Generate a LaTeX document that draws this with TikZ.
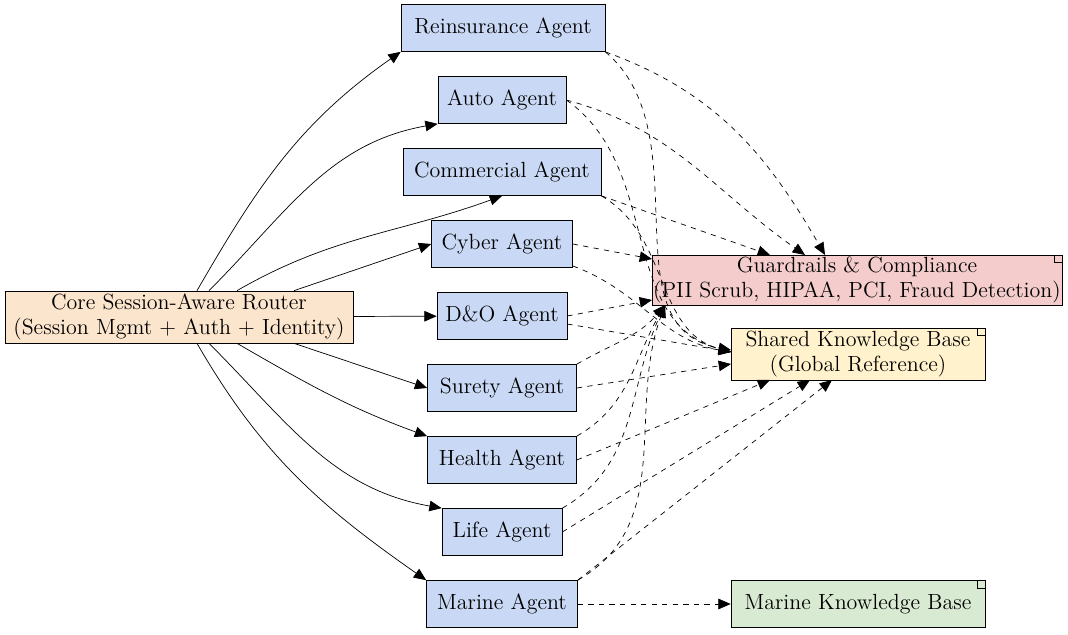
\documentclass[tikz,border=0pt]{standalone}
\usetikzlibrary{arrows.meta}
\definecolor{agentblue}{HTML}{C9D9F5}
\definecolor{routerorange}{HTML}{FCE5CD}
\definecolor{guardred}{HTML}{F4CCCC}
\definecolor{kbyellow}{HTML}{FFF2CC}
\definecolor{kbgreen}{HTML}{D9EAD3}
\begin{document}
\begin{tikzpicture}[x=0.02cm, y=-0.02cm, >={Triangle[length=7pt,width=6pt]},
  font=\fontsize{12.5}{14.5}\selectfont]
  \tikzstyle{box}=[rectangle, draw, inner sep=0pt, minimum height=0.94cm, align=center]
  \tikzstyle{agent}=[box, fill=agentblue]
  \tikzstyle{note}=[box, minimum height=1cm]
  \tikzstyle{solid edge}=[->]
  \tikzstyle{dash edge}=[->, dashed]

  \useasboundingbox (0, 0) rectangle (1068, 635);

  \node[box, fill=routerorange, minimum width=6.96cm, minimum height=1.04cm] (router) at (179, 317) {Core Session-Aware Router\\(Session Mgmt + Auth + Identity)};

  \node[agent, minimum width=4.08cm] (rein)  at (503, 28)  {Reinsurance Agent};
  \node[agent, minimum width=2.56cm] (auto)  at (502, 100) {Auto Agent};
  \node[agent, minimum width=3.96cm] (comm)  at (502, 172) {Commercial Agent};
  \node[agent, minimum width=2.82cm] (cyber) at (502, 244) {Cyber Agent};
  \node[agent, minimum width=2.60cm] (dno)   at (502, 316) {D\&O Agent};
  \node[agent, minimum width=2.98cm] (surety) at (502, 388) {Surety Agent};
  \node[agent, minimum width=2.98cm] (health) at (502, 460) {Health Agent};
  \node[agent, minimum width=2.40cm] (life)  at (502, 532) {Life Agent};
  \node[agent, minimum width=3.02cm] (marine) at (502, 604) {Marine Agent};

  \node[note, fill=guardred, minimum width=8.2cm] (guard) at (857, 280) {Guardrails \& Compliance\\(PII Scrub, HIPAA, PCI, Fraud Detection)};
  \node[note, fill=kbyellow, minimum width=5.08cm, minimum height=1.04cm] (shared) at (858, 354) {Shared Knowledge Base\\(Global Reference)};
  \node[note, fill=kbgreen, minimum width=5.08cm, minimum height=0.94cm] (mkb) at (858, 604) {Marine Knowledge Base};

  % folded corners
  \foreach \n in {guard, shared, mkb}
    \draw (\n.north east) ++(-8, 0) -- ++(0, 8) -- ++(8, 0);

  % router to agents
  \draw[solid edge] (router.north) ++(18,0) to[out=60, in=215] (rein.south west);
  \draw[solid edge] (router.north) ++(30,0) to[out=45, in=190] (auto.south west);
  \draw[solid edge] (router.north) ++(58,0) to[out=30, in=200] (comm.south);
  \draw[solid edge] (router.north) ++(115,0) -- (cyber.west);
  \draw[solid edge] (router) -- (dno);
  \draw[solid edge] (router.south) ++(115,0) -- (surety.west);
  \draw[solid edge] (router.south) ++(58,0) to[out=-30, in=160] (health.north west);
  \draw[solid edge] (router.south) ++(30,0) to[out=-45, in=170] (life.north west);
  \draw[solid edge] (router.south) ++(18,0) to[out=-60, in=145] (marine.north west);

  % agents to guardrails
  \draw[dash edge] (rein.south east) to[out=-20, in=120] (825, 255);
  \draw[dash edge] (auto.east) to[out=-15, in=145] (805, 255);
  \draw[dash edge] (comm.south east) -- (770, 255);
  \draw[dash edge] (cyber.east) -- (652, 259);
  \draw[dash edge] (dno.east) -- (652, 300);
  \draw[dash edge] (surety.north east) to[out=30, in=-130] (665, 305);
  \draw[dash edge] (health.north east) to[out=30, in=-120] (665, 305);
  \draw[dash edge] (life.north east) to[out=30, in=-115] (665, 305);
  \draw[dash edge] (marine.north east) to[out=30, in=-110] (665, 305);

  % agents to shared knowledge base
  \draw[dash edge] (rein.south east) to[out=-40, in=170] (731, 350);
  \draw[dash edge] (auto.east) to[out=-35, in=165] (731, 352);
  \draw[dash edge] (comm.south east) to[out=-30, in=165] (731, 352);
  \draw[dash edge] (cyber.east) ++(0,22) to[out=-20, in=170] (731, 352);
  \draw[dash edge] (dno.east) ++(0,8) -- (731, 352);
  \draw[dash edge] (surety.east) -- (731, 364);
  \draw[dash edge] (health.east) -- (770, 380);
  \draw[dash edge] (life.east) -- (810, 380);
  \draw[dash edge] (marine.north east) -- (832, 380);

  \draw[dash edge] (marine) -- (mkb);
\end{tikzpicture}
\end{document}
